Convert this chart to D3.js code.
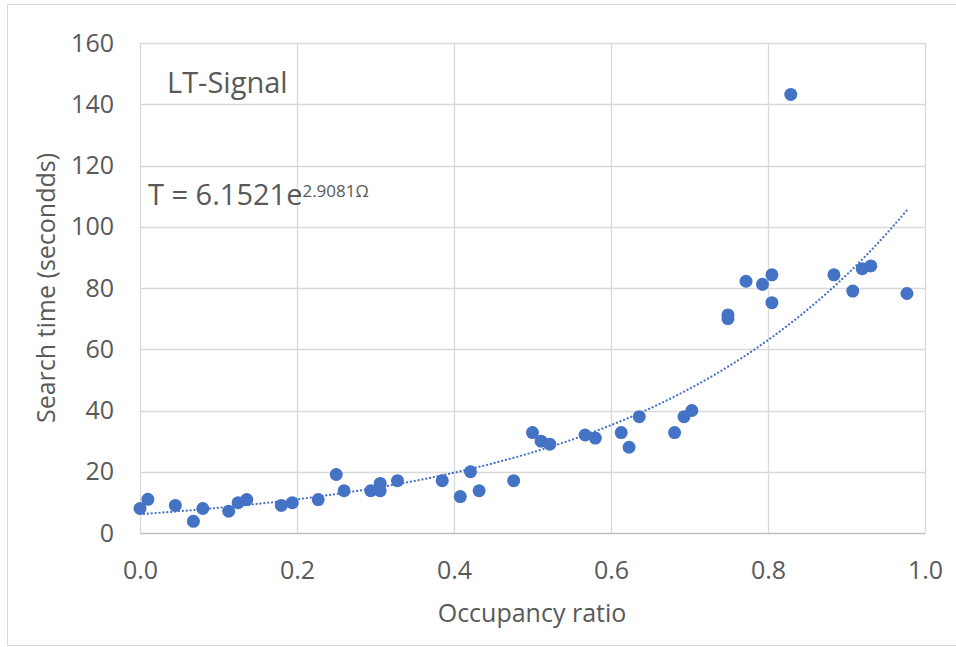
<!DOCTYPE html>
<html>
<head>
<meta charset="utf-8">
<script src="https://cdn.jsdelivr.net/npm/d3@7"></script>
<style>
  body { margin: 0; background: #fff; }
  svg text { font-family: "Open Sans", sans-serif; fill: #595959; }
</style>
</head>
<body>
<script>
// occupancy ratio vs search time
var occupancy = [0.000, 0.010, 0.045, 0.068, 0.080, 0.113, 0.125, 0.136, 0.180, 0.194,
                 0.227, 0.250, 0.260, 0.294, 0.306, 0.306, 0.328, 0.385, 0.408, 0.421,
                 0.432, 0.476, 0.500, 0.511, 0.522, 0.567, 0.580, 0.613, 0.623, 0.636,
                 0.681, 0.693, 0.703, 0.749, 0.749, 0.772, 0.793, 0.805, 0.805, 0.829,
                 0.884, 0.908, 0.920, 0.931, 0.977];
var searchTime = [8.0, 11.0, 9.0, 3.8, 8.0, 7.1, 9.9, 10.9, 9.0, 9.9,
                  10.9, 19.1, 13.8, 13.8, 16.2, 13.8, 17.1, 17.1, 11.9, 20.0,
                  13.8, 17.1, 32.8, 30.0, 29.0, 32.0, 31.0, 32.8, 28.0, 38.0,
                  32.8, 38.0, 40.0, 70.0, 71.2, 82.2, 81.2, 84.3, 75.2, 143.2,
                  84.3, 79.0, 86.3, 87.2, 78.2];
var xTicks = [0, 0.2, 0.4, 0.6, 0.8, 1.0];
var yTicks = [0, 20, 40, 60, 80, 100, 120, 140, 160];
// fitted trendline shown on the chart: T = a * e^(b * x)
var fitA = 6.1521, fitB = 2.9081;
var fitEnd = 0.977;

var width = 956, height = 647;
var margin = {top: 43, right: 31, bottom: 114, left: 140};

var svg = d3.select("body").append("svg")
    .attr("width", width)
    .attr("height", height);

// outer chart frame
svg.append("rect")
    .attr("x", 7.5).attr("y", 4.5)
    .attr("width", 960).attr("height", 641)
    .attr("fill", "none")
    .attr("stroke", "#d9d9d9");

var x = d3.scaleLinear().domain([0, 1]).range([margin.left, width - margin.right]);
var y = d3.scaleLinear().domain([0, 160]).range([height - margin.bottom, margin.top]);

// gridlines
svg.append("g").selectAll("line.h")
    .data(yTicks)
    .enter().append("line")
      .attr("x1", x(0)).attr("x2", x(1))
      .attr("y1", function(d) { return Math.round(y(d)) + 0.5; })
      .attr("y2", function(d) { return Math.round(y(d)) + 0.5; })
      .attr("stroke", function(d) { return d === 0 ? "#bfbfbf" : "#d9d9d9"; })
      .attr("stroke-width", 1.3);
svg.append("g").selectAll("line.v")
    .data(xTicks)
    .enter().append("line")
      .attr("y1", y(0)).attr("y2", y(160))
      .attr("x1", function(d) { return Math.round(x(d)) + 0.5; })
      .attr("x2", function(d) { return Math.round(x(d)) + 0.5; })
      .attr("stroke", "#d9d9d9")
      .attr("stroke-width", 1.3);

// axes (labels only, Excel style)
var xAxis = svg.append("g")
    .attr("transform", "translate(0," + y(0) + ")")
    .call(d3.axisBottom(x).tickValues(xTicks).tickFormat(d3.format(".1f")).tickSize(0).tickPadding(28));
xAxis.select(".domain").remove();
xAxis.selectAll("text").attr("font-size", 25).style("fill", "#595959").attr("font-family", "Open Sans");

var yAxis = svg.append("g")
    .attr("transform", "translate(" + (x(0) - 26) + ",0)")
    .call(d3.axisLeft(y).tickValues(yTicks).tickSize(0).tickPadding(0));
yAxis.select(".domain").remove();
yAxis.selectAll("text").attr("font-size", 25).style("fill", "#595959").attr("font-family", "Open Sans");

// axis titles
svg.append("text")
    .attr("x", 532).attr("y", 622)
    .attr("text-anchor", "middle")
    .attr("font-size", 25)
    .text("Occupancy ratio");
svg.append("text")
    .attr("transform", "translate(55,288) rotate(-90)")
    .attr("text-anchor", "middle")
    .attr("font-size", 25)
    .text("Search time (secondds)");

// trendline
var fitX = d3.range(0, fitEnd, 0.01).concat([fitEnd]);
var line = d3.line()
    .x(function(d) { return x(d); })
    .y(function(d) { return y(fitA * Math.exp(fitB * d)); })
    .curve(d3.curveMonotoneX);
svg.append("path")
    .datum(fitX)
    .attr("d", line)
    .attr("fill", "none")
    .attr("stroke", "#4472c4")
    .attr("stroke-width", 2.2)
    .attr("stroke-linecap", "round")
    .attr("stroke-dasharray", "0.1 3.8");

// points
svg.append("g").selectAll("circle")
    .data(occupancy)
    .enter().append("circle")
      .attr("cx", function(d) { return x(d); })
      .attr("cy", function(d, i) { return y(searchTime[i]); })
      .attr("r", 6.5)
      .attr("fill", "#4472c4");

// annotations
svg.append("text")
    .attr("x", 167).attr("y", 93)
    .attr("font-size", 29)
    .text("LT-Signal");
var eq = svg.append("text")
    .attr("x", 148).attr("y", 205)
    .attr("font-size", 29);
eq.append("tspan").text("T = 6.1521e");
eq.append("tspan").attr("font-size", 17).attr("dy", -8).text("2.9081Ω");
</script>
</body>
</html>
